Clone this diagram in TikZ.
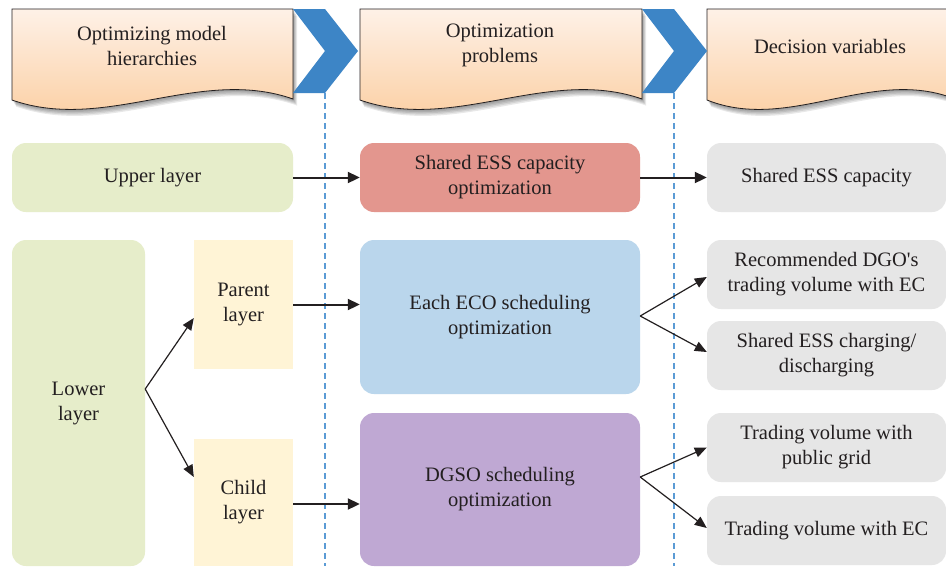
\documentclass[tikz,border=0pt]{standalone}
\usepackage{fontspec}
\setmainfont{Liberation Serif}
\usetikzlibrary{arrows.meta,calc}

\definecolor{hdrtop}{HTML}{FEF1E7}
\definecolor{hdrbot}{HTML}{FBCB9B}
\definecolor{chev}{HTML}{3D85C6}
\definecolor{guide}{HTML}{5B9BD5}
\definecolor{upfill}{HTML}{E6EDCA}
\definecolor{redfill}{HTML}{E3968E}
\definecolor{greyfill}{HTML}{E6E6E6}
\definecolor{bluefill}{HTML}{BAD6EC}
\definecolor{purpfill}{HTML}{BFA8D3}
\definecolor{yelfill}{HTML}{FFF4D6}
\definecolor{ink}{HTML}{231F20}

% wavy "document" header with a soft drop shadow; #1 = left x, #2 = right x
\newcommand\hdrshape[2]{%
  \pgfmathsetmacro\hdrA{#1+(#2-#1)/3}%
  \pgfmathsetmacro\hdrB{#1+2*(#2-#1)/3}%
  \foreach \s in {1,...,5}{%
    \fill[black,opacity=0.09,shift={(\s*0.8,\s*1.3)}]
      (#1,9) -- (#2,9) -- (#2,99) .. controls (\hdrB,66) and (\hdrA,133) .. (#1,100) -- cycle;
  }%
  \shade[top color=hdrtop,bottom color=hdrbot]
    (#1,9) -- (#2,9) -- (#2,99) .. controls (\hdrB,66) and (\hdrA,133) .. (#1,100) -- cycle;
  \draw[line width=0.8pt,ink]
    (#1,9) -- (#2,9) -- (#2,99) .. controls (\hdrB,66) and (\hdrA,133) .. (#1,100) -- cycle;
}

% blue chevron whose notch starts at x = #1
\newcommand\chevshape[1]{%
  \fill[chev] (#1,9) -- ++(32,0) -- ++(33,42) -- ++(-33,42) -- ++(-32,0) -- ++(32,-42) -- cycle;
}

\begin{document}
\begin{tikzpicture}[x=1pt,y=-1pt,
  txt/.style={text=ink,align=center,inner sep=0pt,font=\fontsize{20.5}{25}\selectfont},
  rbox/.style={txt,rounded corners=14pt,minimum width=#1},
  sbox/.style={txt,minimum width=#1},
  guideline/.style={guide,line width=1.2pt,dash pattern=on 6pt off 4pt},
  harr/.style={-{Triangle[length=12pt,width=11pt]},line width=2pt,ink},
  darr/.style={-{Triangle[length=12pt,width=10pt]},line width=1.2pt,ink}]

\clip (0,0) rectangle (946,566);
\fill[white] (0,0) rectangle (946,566);

% headers and chevrons
\hdrshape{12}{293}
\hdrshape{360}{642}
\hdrshape{707}{955}
\chevshape{293}
\chevshape{642}

\node[txt] (h1) at (152,45.5) {Optimizing model\\hierarchies};
\node[txt] (h2) at (500,45.5) {Optimization\\problems};
\node[txt] (h3) at (830,46) {Decision variables};

% column guides
\coordinate (g1t) at (325,93);
\coordinate (g1b) at (325,566);
\coordinate (g2t) at (674,93);
\coordinate (g2b) at (674,566);
\draw[guideline] (g1t) -- (g1b);
\draw[guideline] (g2t) -- (g2b);

% upper layer row
\node[rbox=281pt,minimum height=69pt,fill=upfill] (upper) at (152.5,177.5) {Upper layer};
\node[rbox=280pt,minimum height=69pt,fill=redfill] (essopt) at (500,177.5) {Shared ESS capacity\\optimization};
\node[rbox=239pt,minimum height=69pt,fill=greyfill] (esscap) at (826.5,177.5) {Shared ESS capacity};

% lower layer
\node[rbox=133pt,minimum height=326pt,fill=upfill] (lower) at (78.5,403) {Lower\\layer};
\node[sbox=99pt,minimum height=129pt,fill=yelfill] (parent) at (243.5,304.5) {Parent\\layer};
\node[sbox=99pt,minimum height=127pt,fill=yelfill] (child) at (243.5,502.5) {Child\\layer};

\node[rbox=280pt,minimum height=154pt,fill=bluefill] (eco) at (500,317) {Each ECO scheduling\\optimization};
\node[rbox=280pt,minimum height=153pt,fill=purpfill] (dgso) at (500,489.5) {DGSO scheduling\\optimization};

\node[rbox=239pt,minimum height=69pt,fill=greyfill] (rec) at (826.5,274.5) {Recommended DGO\textquotesingle s\\trading volume with EC};
\node[rbox=239pt,minimum height=69pt,fill=greyfill] (esscd) at (826.5,355.5) {Shared ESS charging/\\discharging};
\node[rbox=239pt,minimum height=69pt,fill=greyfill] (tpg) at (826.5,447.5) {Trading volume with\\public grid};
\node[rbox=239pt,minimum height=69pt,fill=greyfill] (tec) at (826.5,530.5) {Trading volume with EC};

% connectors
\draw[harr] (upper.east) -- (essopt.west);
\draw[harr] (essopt.east) -- (esscap.west);

\coordinate (lb) at ([yshift=14pt]lower.east);
\draw[darr] (lb) -- ([yshift=-13.5pt]parent.west);
\draw[darr] (lb) -- ([yshift=25.5pt]child.west);

\draw[harr] (parent.east) -- (parent.east -| eco.west);
\draw[harr] ([yshift=-1.5pt]child.east) -- ([yshift=-1.5pt]child.east -| dgso.west);

\coordinate (ef) at ([yshift=1pt]eco.east);
\draw[darr] (ef) -- ([yshift=-2.5pt]rec.west);
\draw[darr] (ef) -- ([yshift=3.5pt]esscd.west);

\coordinate (df) at ([yshift=12.5pt]dgso.east);
\draw[darr] (df) -- (tpg.west);
\draw[darr] (df) -- ([yshift=2.5pt]tec.west);

\end{tikzpicture}
\end{document}
